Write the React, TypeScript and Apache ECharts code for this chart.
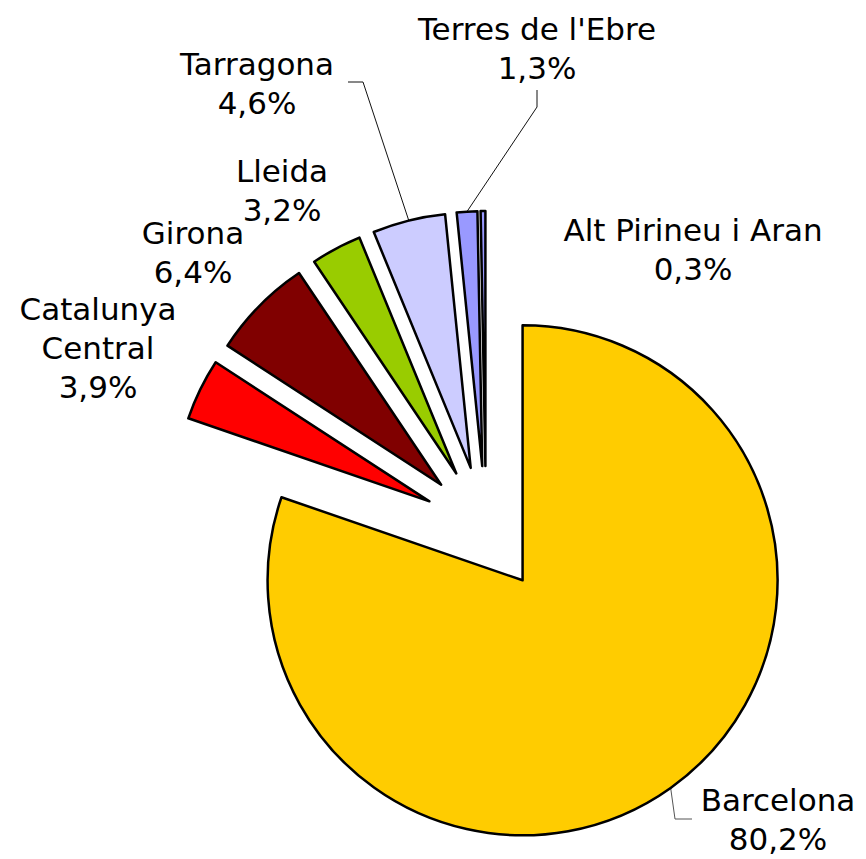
import { useEffect, useRef } from "react";
import * as echarts from "echarts";

// ---- data ----
const categories = [
  "Barcelona",
  "Catalunya Central",
  "Girona",
  "Lleida",
  "Tarragona",
  "Terres de l'Ebre",
  "Alt Pirineu i Aran",
];
const labelNames = [
  "Barcelona",
  "Catalunya\nCentral",
  "Girona",
  "Lleida",
  "Tarragona",
  "Terres de l'Ebre",
  "Alt Pirineu i Aran",
];
const shares = [80.2, 3.9, 6.4, 3.2, 4.6, 1.3, 0.3];

// ---- styling / layout ----
const colors = ["#FFCC00", "#FF0000", "#800000", "#99CC00", "#CCCCFF", "#9999FF", "#9999FF"];
const PIE_CENTER = [486, 529];
const PIE_RADIUS = 255;
const EXPLODE = 63;
const labelCenters: number[][] = [
  [778, 819],
  [98, 348],
  [193, 252],
  [282, 190],
  [257, 83],
  [537, 48],
  [693, 249],
];
const leaderElbows: (number[][] | null)[] = [
  [[675, 819], [692, 819]],
  null,
  null,
  null,
  [[363, 82], [348, 82]],
  [[537, 107], [537, 90]],
  null,
];

const fmt = (v: number) => v.toFixed(1).replace(".", ",") + "%";

export default function App() {
  const ref = useRef<HTMLDivElement>(null);
  useEffect(() => {
    if (!ref.current) return;
    const chart = echarts.init(ref.current, undefined, { renderer: "svg" });
    chart.setOption({
      animation: false,
      backgroundColor: "#ffffff",
      series: [
        {
          type: "pie",
          center: PIE_CENTER,
          radius: PIE_RADIUS,
          startAngle: 90,
          clockwise: true,
          avoidLabelOverlap: false,
          selectedMode: "multiple",
          selectedOffset: EXPLODE,
          emphasis: { disabled: true },
          select: {
            itemStyle: { borderColor: "#000", borderWidth: 2.5 },
          },
          itemStyle: { borderColor: "#000", borderWidth: 2.5 },
          label: { show: false },
          labelLine: { show: false },
          data: categories.map((name, i) => ({
            name,
            value: shares[i],
            selected: true,
            itemStyle: { color: colors[i] },
          })),
        },
        {
          // label carrier: same slices, outer edge at exploded arc
          type: "pie",
          center: PIE_CENTER,
          radius: [PIE_RADIUS + EXPLODE, PIE_RADIUS + EXPLODE],
          startAngle: 90,
          clockwise: true,
          silent: true,
          avoidLabelOverlap: false,
          emphasis: { disabled: true },
          itemStyle: { color: "rgba(0,0,0,0)", borderWidth: 0 },
          label: {
            show: true,
            position: "outside",
            color: "#000",
            fontFamily: "DejaVu Sans",
            fontSize: 31,
            lineHeight: 39,
            align: "center",
            formatter: (p: any) => labelNames[p.dataIndex] + "\n" + fmt(shares[p.dataIndex]),
          },
          labelLine: {
            show: true,
            lineStyle: { color: "#111", width: 1 },
          },
          labelLayout: (p: any) => {
            const i = p.dataIndex;
            const out: any = {
              x: labelCenters[i][0],
              y: labelCenters[i][1],
              align: "center",
              verticalAlign: "middle",
            };
            const el = leaderElbows[i];
            if (el && p.labelLinePoints) {
              out.labelLinePoints = [p.labelLinePoints[0], el[0], el[1]];
            }
            return out;
          },
          data: categories.map((name, i) => ({
            name,
            value: shares[i],
            labelLine: {
              show: leaderElbows[i] != null,
              lineStyle: { color: i === 0 ? "#555" : "#111" },
            },
          })),
        },
      ],
    });
    return () => chart.dispose();
  }, []);
  return (
    <div
      ref={ref}
      style={{ position: "fixed", left: 0, top: 0, width: 866, height: 859, background: "#fff" }}
    />
  );
}
